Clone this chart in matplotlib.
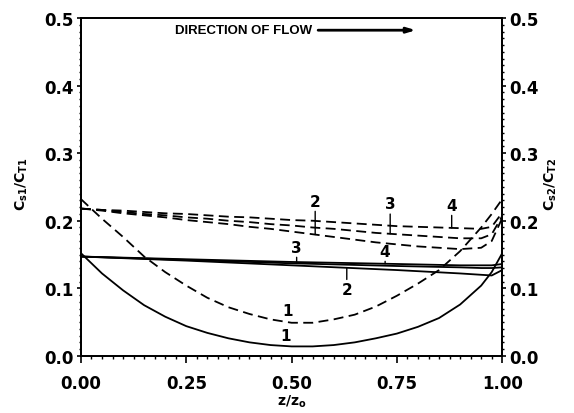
import matplotlib
matplotlib.use("Agg")
import matplotlib.pyplot as plt
import numpy as np
from matplotlib.ticker import MultipleLocator

plt.rcParams["font.family"] = ["DejaVu Sans"]
plt.rcParams["mathtext.default"] = "bf"

# z/z0 positions used for the curved profiles
Z = [0.0, 0.05, 0.1, 0.15, 0.2, 0.25, 0.3, 0.35, 0.4, 0.45, 0.5,
     0.55, 0.6, 0.65, 0.7, 0.75, 0.8, 0.85, 0.9, 0.95, 0.975, 1.0]

# Cs1/CT1 (solid) and Cs2/CT2 (dashed), case 1
SOLID_1 = [0.152, 0.122, 0.097, 0.075, 0.058, 0.044, 0.034, 0.026, 0.020, 0.016, 0.014,
           0.014, 0.016, 0.020, 0.026, 0.033, 0.043, 0.056, 0.076, 0.104, 0.124, 0.152]
DASHED_1 = [0.232, 0.203, 0.176, 0.147, 0.124, 0.104, 0.086, 0.072, 0.062, 0.054, 0.049,
            0.049, 0.054, 0.061, 0.073, 0.089, 0.107, 0.127, 0.155, 0.190, 0.210, 0.232]

# dashed cases 2-4
DASHED_2 = [0.218, 0.215, 0.211, 0.208, 0.205, 0.201, 0.198, 0.195, 0.191, 0.188, 0.184,
            0.180, 0.176, 0.172, 0.168, 0.165, 0.162, 0.160, 0.158, 0.160, 0.170, 0.204]
DASHED_3 = [0.218, 0.216, 0.213, 0.210, 0.208, 0.205, 0.203, 0.200, 0.198, 0.195, 0.193,
            0.190, 0.188, 0.185, 0.182, 0.180, 0.178, 0.176, 0.174, 0.174, 0.180, 0.207]
DASHED_4 = [0.218, 0.216, 0.215, 0.213, 0.211, 0.210, 0.208, 0.206, 0.205, 0.203, 0.201,
            0.200, 0.198, 0.196, 0.194, 0.192, 0.191, 0.190, 0.189, 0.188, 0.191, 0.212]

# solid cases 2-4 are nearly straight
Z_FLAT = [0.0, 0.25, 0.5, 0.75, 0.9, 0.95, 0.975, 1.0]
SOLID_2 = [0.147, 0.141, 0.134, 0.127, 0.122, 0.120, 0.119, 0.127]
SOLID_3 = [0.147, 0.142, 0.137, 0.133, 0.131, 0.130, 0.130, 0.131]
SOLID_4 = [0.147, 0.143, 0.139, 0.136, 0.134, 0.134, 0.134, 0.136]

Y_TICKS = [0.0, 0.1, 0.2, 0.3, 0.4, 0.5]
X_TICKS = [0.0, 0.25, 0.5, 0.75, 1.0]

DASH = (5.5, 3.0)
LW = 1.3

fig = plt.figure(figsize=(5.74, 4.14), dpi=100)
ax = fig.add_axes([0.141, 0.138, 0.734, 0.816])

ax.plot(Z, SOLID_1, color="black", lw=LW)
ax.plot(Z, DASHED_1, color="black", lw=LW, dashes=DASH)
for ys in (DASHED_2, DASHED_3, DASHED_4):
    ax.plot(Z, ys, color="black", lw=LW, dashes=DASH)
for ys in (SOLID_2, SOLID_3, SOLID_4):
    ax.plot(Z_FLAT, ys, color="black", lw=LW)

# curve labels
lab = dict(ha="center", va="center", fontsize=11, fontweight="bold")
ax.text(0.485, 0.030, "1", **lab)
ax.text(0.49, 0.067, "1", **lab)


def tag(txt, x, y_text, zs, ys, below=False):
    y_line = float(np.interp(x, zs, ys))
    ax.annotate(txt, xy=(x, y_line), xytext=(x, y_text),
                ha="center", va="top" if below else "bottom",
                fontsize=11, fontweight="bold",
                arrowprops=dict(arrowstyle="-", lw=1.0, color="black",
                                shrinkA=0, shrinkB=0))


tag("2", 0.556, 0.218, Z, DASHED_2)
tag("3", 0.734, 0.214, Z, DASHED_3)
tag("4", 0.880, 0.212, Z, DASHED_4)
tag("3", 0.512, 0.150, Z_FLAT, SOLID_3)
tag("4", 0.722, 0.144, Z_FLAT, SOLID_4)
tag("2", 0.631, 0.109, Z_FLAT, SOLID_2, below=True)

# flow direction note
ax.text(0.549, 0.964, "DIRECTION OF FLOW", transform=ax.transAxes,
        ha="right", va="center", fontsize=9.5, fontweight="bold",
        family="Liberation Sans")
ax.annotate("", xy=(0.795, 0.964), xytext=(0.563, 0.964),
            xycoords="axes fraction", textcoords="axes fraction",
            arrowprops=dict(arrowstyle="-|>,head_length=0.5,head_width=0.15",
                            lw=2.0, color="black", shrinkA=0, shrinkB=0))

ax.set_xlim(0, 1)
ax.set_ylim(0, 0.5)
ax.set_xticks(X_TICKS)
ax.set_xticklabels([f"{v:.2f}" for v in X_TICKS])
ax.set_yticks(Y_TICKS)
ax.set_yticklabels([f"{v:.1f}" for v in Y_TICKS])
ax.xaxis.set_minor_locator(MultipleLocator(0.025))
ax.yaxis.set_minor_locator(MultipleLocator(0.01))
ax.tick_params(which="major", direction="out", length=5, width=1.2,
               labelsize=12, pad=8, top=False)
ax.tick_params(axis="y", which="major", pad=2, length=3)
ax.tick_params(which="minor", direction="out", length=2.5, width=1.0, top=False)
ax.tick_params(axis="y", which="minor", length=1.5)
for lbl in ax.get_xticklabels() + ax.get_yticklabels():
    lbl.set_fontweight("bold")

ax2 = ax.twinx()
ax2.set_ylim(0, 0.5)
ax2.set_yticks(Y_TICKS)
ax2.set_yticklabels([f"{v:.1f}" for v in Y_TICKS])
ax2.yaxis.set_minor_locator(MultipleLocator(0.01))
ax2.tick_params(which="major", direction="out", length=3, width=1.2,
                labelsize=12, pad=2)
ax2.tick_params(which="minor", direction="out", length=1.5, width=1.0)
for lbl in ax2.get_yticklabels():
    lbl.set_fontweight("bold")

for a in (ax, ax2):
    for s in a.spines.values():
        s.set_linewidth(1.3)

ax.set_xlabel("z/z$_o$", fontsize=10, fontweight="bold")
ax.xaxis.set_label_coords(0.5, -0.11)
ax.set_ylabel("C$_{s1}$/C$_{T1}$", fontsize=10, fontweight="bold")
ax.yaxis.set_label_coords(-0.12, 0.51)
ax2.set_ylabel("C$_{s2}$/C$_{T2}$", fontsize=10, fontweight="bold", rotation=90)
ax2.yaxis.set_label_coords(1.095, 0.51)

fig.savefig("out.png", dpi=100)
